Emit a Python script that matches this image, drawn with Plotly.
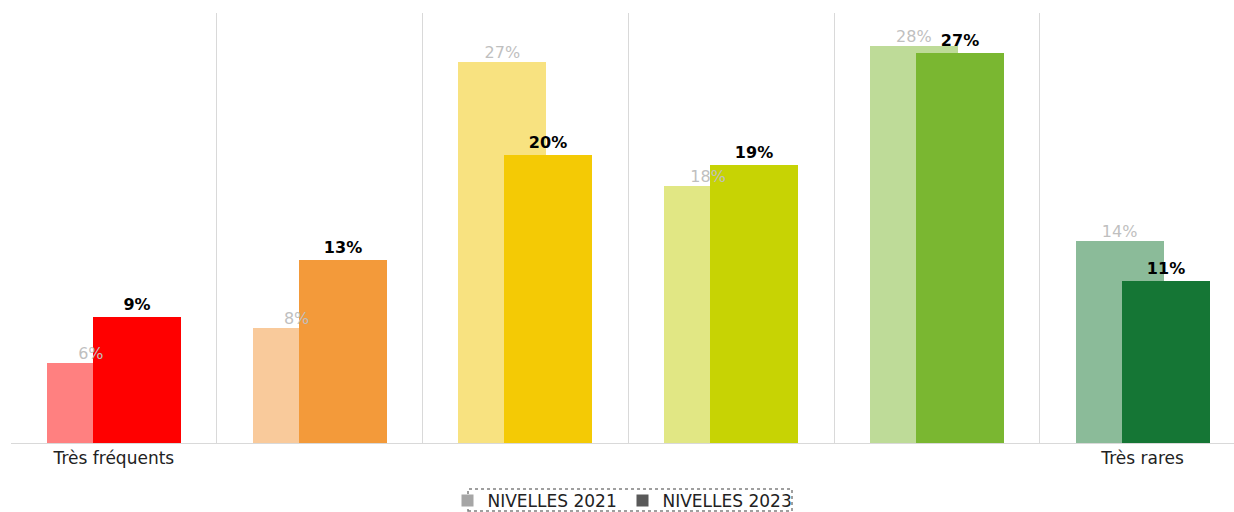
import plotly.graph_objects as go

categories = ["Très fréquents", "", "", "", "", "Très rares"]
values_2021 = [5.6, 8.0, 26.6, 17.9, 27.7, 14.1]
values_2023 = [8.8, 12.8, 20.1, 19.4, 27.2, 11.3]
labels_2021 = ["6%", "8%", "27%", "18%", "28%", "14%"]
labels_2023 = ["9%", "13%", "20%", "19%", "27%", "11%"]
colors_2021 = ["#FF8080", "#F9CA9B", "#F8E280", "#E1E784", "#BEDB98", "#8BBB99"]
colors_2023 = ["#FF0000", "#F39A3A", "#F4CA05", "#C7D304", "#7AB731", "#157635"]
series_names = ["NIVELLES 2021", "NIVELLES 2023"]
legend_colors = ["#A6A6A6", "#595959"]

idx = list(range(len(categories)))
FONT = "DejaVu Sans"
W = 0.428
OFF = 0.112

PAGE_W, PAGE_H = 1234, 512
PLOT_L, PLOT_T, PLOT_B = 11, 13, 443

fig = go.Figure()
fig.add_trace(go.Bar(
    x=idx, y=values_2021, width=W, offset=-OFF - W / 2,
    marker=dict(color=colors_2021, line=dict(width=0)),
    showlegend=False, hoverinfo="skip",
))
fig.add_trace(go.Bar(
    x=idx, y=values_2023, width=W, offset=OFF - W / 2,
    marker=dict(color=colors_2023, line=dict(width=0)),
    text=labels_2023, textposition="outside", cliponaxis=False,
    textfont=dict(family=FONT, size=16, color="#000000", weight="bold"),
    showlegend=False, hoverinfo="skip",
))
# 2021 labels drawn on top of everything
fig.add_trace(go.Scatter(
    x=[i - OFF for i in idx], y=values_2021, mode="text", text=labels_2021,
    textposition="top center", cliponaxis=False,
    textfont=dict(family=FONT, size=16, color="#BFBFBF"),
    showlegend=False, hoverinfo="skip",
))
for name, col in zip(series_names, legend_colors):
    fig.add_trace(go.Scatter(
        x=[None], y=[None], mode="markers", name=name,
        marker=dict(symbol="square", size=10, color=col),
    ))

plot_h = PLOT_B - PLOT_T
fig.update_layout(
    width=PAGE_W, height=PAGE_H,
    margin=dict(l=PLOT_L, r=0, t=PLOT_T, b=PAGE_H - PLOT_B, autoexpand=False),
    paper_bgcolor="white", plot_bgcolor="white",
    barmode="overlay", bargap=0,
    font=dict(family=FONT, size=17, color="#222222"),
    showlegend=True,
    legend=dict(
        orientation="h", x=0.5, xanchor="center", y=-0.093, yanchor="top",
        font=dict(family=FONT, size=17, color="#222222"),
        itemsizing="constant", itemwidth=30, tracegroupgap=0,
        entrywidth=130, entrywidthmode="pixels",
        bgcolor="rgba(0,0,0,0)",
    ),
    xaxis=dict(
        range=[-0.5, 5.444], tickmode="array", tickvals=[0, 5],
        ticktext=[categories[0], categories[5]],
        showgrid=False, zeroline=False,
        showline=True, linecolor="#D9D9D9", linewidth=1,
        ticks="", ticklen=0, tickfont=dict(family=FONT, size=17, color="#222222"),
        minor=dict(tickmode="array", tickvals=[-0.5, 0.5, 1.5, 2.5, 3.5, 4.5],
                   showgrid=True, gridcolor="#D9D9D9", gridwidth=1, ticks=""),
        fixedrange=True,
    ),
    yaxis=dict(
        range=[0, 30], showgrid=False, zeroline=False, showticklabels=False,
        showline=False, fixedrange=True,
    ),
)

plot_w = PAGE_W - PLOT_L
fig.add_shape(
    type="rect", xref="paper", yref="paper",
    x0=(468 - PLOT_L) / plot_w, x1=(792 - PLOT_L) / plot_w,
    y0=(PLOT_B - 511) / plot_h, y1=(PLOT_B - 489) / plot_h,
    line=dict(color="#808080", width=1.5, dash="dot"),
    fillcolor="rgba(0,0,0,0)", layer="above",
)

fig.write_html(
    "out.html",
    config={"displayModeBar": False},
    post_script="document.body.style.margin='0';document.body.style.overflow='hidden';",
)
